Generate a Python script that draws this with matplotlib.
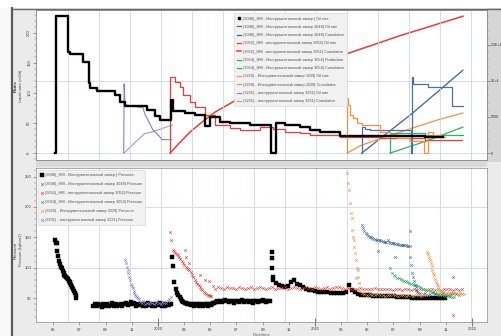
import numpy as np
import pandas as pd
import matplotlib
matplotlib.use("Agg")
import matplotlib.pyplot as plt
import matplotlib.dates as mdates
from matplotlib.lines import Line2D
from matplotlib.patches import Rectangle
from matplotlib.ticker import FixedLocator, FixedFormatter, MultipleLocator

plt.rcParams['font.family'] = ['Liberation Sans', 'DejaVu Sans']
plt.rcParams['font.size'] = 3

# ---- top panel: rates (left axis) and cumulative (right axis) ----
r3048hm_dates = ["2019-05-07", "2019-05-08", "2019-06-06", "2019-06-10", "2019-07-11", "2019-07-25",
                 "2019-07-27", "2019-08-12", "2019-09-23", "2019-10-05", "2019-10-16", "2019-12-06",
                 "2019-12-25", "2020-01-06", "2020-02-01", "2020-02-04", "2020-03-04", "2020-03-27",
                 "2020-04-19", "2020-04-30", "2020-05-24", "2020-06-16", "2020-08-02", "2020-09-20",
                 "2020-10-01", "2020-10-22", "2020-11-26", "2020-12-19", "2021-01-12", "2021-02-27",
                 "2021-09-13", "2021-10-25"]
r3048hm = [0, 228, 168, 165, 152, 117, 108, 103, 97, 85, 78, 72, 62, 55, 88, 70, 67, 63, 45, 60,
           52, 50, 47, 0, 50, 47, 43, 38, 35, 28, 26, 26]

r3048_dates = ["2021-04-18", "2021-04-19", "2021-04-26", "2021-05-08", "2021-08-12", "2021-08-13",
               "2021-08-15", "2021-09-20", "2021-11-15", "2021-12-10"]
r3048 = [0, 43, 40, 38, 0, 127, 115, 110, 78, 78]
c3048_dates = ["2021-04-19", "2021-08-14", "2021-12-10"]
c3048 = [0, 5500, 11500]

r3052_dates = ["2020-01-28", "2020-01-29", "2020-02-10", "2020-02-21", "2020-02-28", "2020-03-15",
               "2020-03-27", "2020-04-19", "2020-05-13", "2020-06-16", "2020-07-10", "2020-08-25",
               "2020-09-24", "2020-10-22", "2020-11-26", "2020-12-19", "2021-02-27", "2021-05-31",
               "2021-09-13", "2021-12-08"]
r3052 = [0, 127, 118, 110, 97, 85, 77, 63, 47, 42, 38, 43, 40, 35, 33, 30, 27, 25, 22, 22]
c3052_dates = ["2020-01-29", "2020-02-21", "2020-03-15", "2020-04-08", "2020-05-13", "2020-06-23",
               "2020-08-25", "2020-11-03", "2021-03-06", "2021-07-17", "2021-12-10"]
c3052 = [0, 1500, 2900, 4100, 5700, 7100, 8900, 10700, 13600, 16300, 19000]

r3054_dates = ["2021-06-23", "2021-06-24", "2021-09-13", "2021-12-10"]
r3054 = [0, 33, 30, 30]
c3054_dates = ["2021-06-24", "2021-09-13", "2021-12-10"]
c3054 = [0, 1600, 3600]

r3229_dates = ["2021-03-15", "2021-03-16", "2021-03-18", "2021-03-23", "2021-03-29", "2021-04-08",
               "2021-04-19", "2021-05-31", "2021-06-24", "2021-07-10", "2021-08-09", "2021-09-10",
               "2021-09-11", "2021-09-19", "2021-09-20", "2021-10-02", "2021-10-18", "2021-10-29"]
r3229 = [0, 92, 80, 63, 58, 50, 47, 35, 32, 25, 20, 20, 0, 0, 35, 30, 27, 27]
c3229_dates = ["2021-03-16", "2021-04-15", "2021-05-31", "2021-07-17", "2021-09-01", "2021-10-18",
               "2021-12-10"]
c3229 = [0, 1000, 2000, 2900, 3800, 4700, 5550]

r3231_dates = ["2019-10-13", "2019-10-14", "2019-10-16", "2019-11-27", "2019-12-01", "2019-12-06",
               "2019-12-13", "2019-12-20", "2020-01-01", "2020-01-10", "2020-02-01"]
r3231 = [0, 115, 80, 75, 65, 58, 48, 38, 30, 22, 22]
c3231_dates = ["2019-10-14", "2019-11-09", "2019-12-01", "2019-12-20", "2020-02-03"]
c3231 = [0, 1500, 2700, 2950, 3900]

# ---- bottom panel: pressure readings, (start date, step in days, values) ----
p3048hm = [
    ("2019-05-06", 2, [146, 141, 140, 128, 120, 112, 106, 102, 99, 95, 92, 89, 87, 85, 83, 81, 79, 77,
                       75, 72, 69, 66, 62, 58, 55, 51]),
    ("2019-08-03", 4, [38, 40, 37, 41, 39, 36, 40, 38, 41, 37, 39, 42, 38, 40, 37, 39, 41, 38, 40, 43,
                       39, 41, 44, 40, 42, 38, 40, 39, 41, 37, 40, 38, 42, 39, 37, 41, 38, 40, 39, 42,
                       38, 40, 37, 41, 39, 40]),
    ("2020-02-02", 3, [118, 103, 77, 66, 59, 55, 52, 49, 46, 44, 43, 42, 41, 40, 40, 39, 41, 38, 40, 39,
                       41, 38, 40, 39, 38, 41, 39, 40, 38, 41, 39, 40, 42, 43, 44, 45, 44]),
    ("2020-05-24", 4, [46, 44, 45, 47, 45, 44, 46, 45, 43, 45, 46, 44, 45, 47, 44, 45, 46, 44, 45, 43,
                       46, 45, 44, 46, 45, 47, 45, 44, 46, 45]),
    ("2020-09-21", 1, [126, 116, 100, 85]),
    ("2020-09-25", 7, [80, 75, 72, 70, 69, 70, 76, 80, 74, 71, 68, 66, 64, 63, 62, 61, 61, 60, 60, 59,
                       59, 58, 58, 58, 60, 72, 64, 60, 57, 56, 55, 55, 55, 54, 54, 54, 54, 53, 53, 53,
                       53, 52, 52, 52, 52, 52, 51, 51, 51, 51, 51, 51, 51, 50, 50, 50, 50, 50]),
]
p3048 = [
    ("2021-04-19", 3, [170, 165, 161, 158, 155, 153, 151, 150, 149, 148, 147, 146, 146, 145, 145, 144,
                       144, 143, 143, 142, 145, 142, 141, 141, 140, 140, 139, 139, 139, 138, 138, 138,
                       137, 137, 137, 136, 136, 136]),
    ("2021-08-10", 2, [118, 105, 92, 85, 78, 72, 68, 64, 61, 59]),
    ("2021-09-01", 6, [58, 57, 58, 56, 57, 58, 57, 56, 57, 58, 57, 56, 57, 58, 57, 56]),
]
p3048_extra_dates = ["2021-05-27", "2021-07-05", "2021-08-09", "2021-11-17"]
p3048_extra = [128, 118, 160, 85]

p3052 = [
    ("2020-01-29", 3, [159, 146, 130, 127, 125, 123, 121, 118, 115, 112, 108, 105, 102, 99, 98, 97, 93,
                       89, 85, 80, 77, 74, 71, 68, 65, 63, 61, 59, 57, 56, 55, 54, 53]),
    ("2020-05-13", 7, [66, 68, 67, 66, 68, 67, 67, 66, 68, 67, 66, 67, 68, 66, 67, 68, 67, 66, 67, 68,
                       66, 67, 67, 68, 66, 67, 68, 67, 66, 67, 68, 67, 66, 68, 67, 66, 67, 68, 66, 67,
                       69, 68, 67, 66, 67, 66, 65, 66, 67, 65, 66, 65, 66, 67, 65, 66, 65, 66, 65, 64,
                       66, 65, 64, 65, 66, 64, 65, 64, 66, 65, 64, 65, 66, 64, 65, 64, 65, 66, 65, 64,
                       65, 64, 65]),
]
p3052_extra_dates = ["2020-03-04", "2020-03-07", "2020-03-13", "2020-04-08", "2020-04-19",
                     "2020-04-28", "2020-05-08", "2021-11-17"]
p3052_extra = [130, 118, 108, 88, 80, 78, 70, 23]

p3054 = [
    ("2021-06-24", 4, [100, 92, 88, 86, 84, 83, 82, 80, 79, 78, 76, 75, 74, 73, 72, 71, 70, 68, 67, 66,
                       65, 64, 63, 62, 61, 60, 59, 58, 57, 56, 56, 55, 54, 54, 53, 53, 52, 52]),
]
p3229 = [
    ("2021-03-16", 2, [256, 240, 228, 206, 190, 182, 162, 150, 146, 125, 113, 100, 97, 85, 75, 62]),
    ("2021-04-19", 6, [58, 57, 56, 57, 55, 56, 57, 55, 56, 54, 56, 55, 57, 55, 54, 56, 55, 54, 56, 55,
                       54, 55, 56, 54, 55, 56]),
    ("2021-09-18", 2, [126, 122, 118, 113, 108, 103, 97, 92, 88, 82, 77, 73, 70, 66, 64, 62, 60]),
    ("2021-10-24", 5, [60, 59, 58, 59, 58, 57, 58, 57, 58, 57, 57]),
]
p3229_extra_dates = ["2021-04-01", "2021-04-05"]
p3229_extra = [134, 84]
p3231 = [
    ("2019-10-16", 2, [113, 108, 102, 96, 92, 85, 80, 74, 70, 67, 62, 58, 56, 54, 52, 50, 48]),
    ("2019-11-20", 4, [44, 42, 45, 41, 43, 40, 44, 42, 41, 43, 45, 42, 41, 44, 42, 43, 45, 48, 52]),
]

labels_top = [
    "(3048)_HM - Инструментальный замер | Oil rate",
    "(3048)_HM - Инструментальный замер 3048| Oil rate",
    "(3048)_HM - Инструментальный замер 3048| Cumulative",
    "(3052)_HM - инструментальный замер 3052| Oil rate",
    "(3052)_HM - инструментальный замер 3052| Cumulative",
    "(3054)_HM - Инструментальный замер 3054| Production",
    "(3054)_HM - Инструментальный замер 3054| Cumulative",
    "(3229) - Инструментальный замер 3229| Oil rate",
    "(3229) - Инструментальный замер 3229| Cumulative",
    "(3231) - инструментальный замер 3231| Oil rate",
    "(3231) - инструментальный замер 3231| Cumulative",
]
labels_bottom = [
    "(3048)_HM - Инструментальный замер | Pressure",
    "(3048)_HM - Инструментальный замер 3048| Pressure",
    "(3052)_HM - инструментальный замер 3052| Pressure",
    "(3054)_HM - Инструментальный замер 3054| Pressure",
    "(3229) - Инструментальный замер 3229| Pressure",
    "(3231) - инструментальный замер 3231| Pressure",
]

BLACK, BLUE, RED, GREEN, ORANGE, PURPLE = "#000000", "#4a6fa5", "#ee3a33", "#2fb15c", "#f3913a", "#8d7cc4"
GRID = "#c9d5f2"


def d(lst):
    return pd.to_datetime(lst)


def segs(parts):
    xs, ys = [], []
    for start, step, vals in parts:
        xs.append(pd.date_range(start, periods=len(vals), freq=f"{step}D"))
        ys.extend(vals)
    return xs[0].append(xs[1:]) if len(xs) > 1 else xs[0], ys


fig = plt.figure(figsize=(5.02, 3.36), dpi=100, facecolor="#ebebeb")

# frame decorations of the application window
fig.patches.append(Rectangle((0, 0), 12 / 502, 1, transform=fig.transFigure, facecolor="#f8f8f8", zorder=-2))
fig.patches.append(Rectangle((0, 1 - 8 / 336), 1, 8 / 336, transform=fig.transFigure, facecolor="#ffffff", zorder=-2))
fig.patches.append(Rectangle((487 / 502, 1 - 162 / 336), 15 / 502, 154 / 336, transform=fig.transFigure,
                             facecolor="#d6d6d6", zorder=-1))
fig.patches.append(Rectangle((36 / 502, 1 - 167 / 336), 451 / 502, 6 / 336, transform=fig.transFigure,
                             facecolor="#d9d9d9", zorder=-1))
fig.add_artist(Line2D([12.5 / 502] * 2, [0, 1 - 8 / 336], color="#5a5a5a", lw=1.6, transform=fig.transFigure))
fig.add_artist(Line2D([12 / 502, 1], [1 - 8.5 / 336] * 2, color="#6a6a6a", lw=1.0, transform=fig.transFigure))

ax1 = fig.add_axes([36 / 502, 1 - 160 / 336, 451 / 502, 150 / 336])
ax1r = ax1.twinx()
ax2 = fig.add_axes([36 / 502, 1 - 322 / 336, 451 / 502, 154 / 336], sharex=ax1)

xmin, xmax = pd.Timestamp("2019-03-23"), pd.Timestamp("2022-02-04")
grid_dates = pd.date_range("2019-06-06", "2022-02-01", freq="72D")
for ax in (ax1, ax2):
    for g in grid_dates:
        ax.axvline(g, color=GRID, lw=0.6, zorder=0)
ax1r.axhline(0, color=GRID, lw=0.6, zorder=0)
ax1r.axhline(10000, color=GRID, lw=0.6, zorder=0)
ax2.axhline(100, color=GRID, lw=0.6, zorder=0)
ax2.axhline(200, color=GRID, lw=0.6, zorder=0)

# rates
h = []
h.append(ax1.plot(d(r3048hm_dates), r3048hm, drawstyle="steps-post", color=BLACK, lw=1.7)[0])
h.append(ax1.plot(d(r3048_dates), r3048, drawstyle="steps-post", color=BLUE, lw=0.9)[0])
h.append(ax1r.plot(d(c3048_dates), c3048, color="#3d5e99", lw=0.9)[0])
h.append(ax1.plot(d(r3052_dates), r3052, drawstyle="steps-post", color=RED, lw=0.9)[0])
h.append(ax1r.plot(d(c3052_dates), c3052, color=RED, lw=1.1)[0])
h.append(ax1.plot(d(r3054_dates), r3054, drawstyle="steps-post", color=GREEN, lw=0.9)[0])
h.append(ax1r.plot(d(c3054_dates), c3054, color=GREEN, lw=0.9)[0])
h.append(ax1.plot(d(r3229_dates), r3229, drawstyle="steps-post", color=ORANGE, lw=0.9)[0])
h.append(ax1r.plot(d(c3229_dates), c3229, color=ORANGE, lw=0.9)[0])
h.append(ax1.plot(d(r3231_dates), r3231, color=PURPLE, lw=0.8)[0])
h.append(ax1r.plot(d(c3231_dates), c3231, color="#a497d2", lw=0.8)[0])
h[0].set_zorder(5)
ax1.set_zorder(ax1r.get_zorder() + 1)
ax1.patch.set_visible(False)
ax1r.patch.set_visible(True)
ax1r.patch.set_facecolor("white")

h_top = [Line2D([], [], color=BLACK, marker="s", ls="none", ms=1.6)] + h[1:]
leg = ax1.legend(h_top, labels_top, loc="upper left", bbox_to_anchor=(0.435, 0.99), fontsize=2.8,
                 handlelength=1.0, handletextpad=0.4, labelspacing=1.1, borderpad=0.8,
                 fancybox=False, framealpha=0.97, facecolor="#f1f1f1", edgecolor="#d8d8d8",
                 labelcolor="#505050")
leg.get_frame().set_linewidth(0.5)
leg.set_zorder(20)

# pressures
ms = 1.8
x, y = segs(p3048hm)
hb = [ax2.plot(x, y, ls="none", marker="s", ms=2.5, color=BLACK, mew=0.3)[0]]
x, y = segs(p3048)
hb.append(ax2.plot(x.append(d(p3048_extra_dates)), y + p3048_extra, ls="none", marker="x", ms=ms,
                   mew=0.45, color=BLUE)[0])
x, y = segs(p3052)
hb.append(ax2.plot(x.append(d(p3052_extra_dates)), y + p3052_extra, ls="none", marker="x", ms=ms,
                   mew=0.45, color=RED)[0])
x, y = segs(p3054)
hb.append(ax2.plot(x, y, ls="none", marker="x", ms=ms, mew=0.45, color=GREEN)[0])
x, y = segs(p3229)
hb.append(ax2.plot(x.append(d(p3229_extra_dates)), y + p3229_extra, ls="none", marker="x", ms=ms,
                   mew=0.45, color=ORANGE)[0])
x, y = segs(p3231)
hb.append(ax2.plot(x, y, ls="none", marker="x", ms=ms, mew=0.45, color=PURPLE)[0])

leg2 = ax2.legend(hb, labels_bottom, loc="upper left", bbox_to_anchor=(0.0, 1.0), fontsize=2.8,
                  handlelength=0.6, handletextpad=0.4, labelspacing=1.3, borderpad=0.8,
                  fancybox=False, framealpha=0.97, facecolor="#f1f1f1", edgecolor="#d8d8d8",
                  markerscale=1.1, labelcolor="#505050")
leg2.get_frame().set_linewidth(0.5)

# axes limits and ticks
ax1.set_xlim(xmin, xmax)
ax1.set_ylim(-12, 238)
ax1r.set_ylim(-972, 19860)
ax2.set_ylim(11, 264)

for ax in (ax1, ax1r, ax2):
    for s in ax.spines.values():
        s.set_color("#8a8a8a")
        s.set_linewidth(0.5)

ax1.yaxis.set_major_locator(MultipleLocator(50))
ax1.yaxis.set_minor_locator(MultipleLocator(10))
ax2.yaxis.set_major_locator(MultipleLocator(50))
ax2.yaxis.set_minor_locator(MultipleLocator(10))
ax1r.yaxis.set_major_locator(FixedLocator([0, 5000, 10000, 15000]))
ax1r.yaxis.set_major_formatter(FixedFormatter(["0", "5000", "1E+4", "1.5E+4"]))
ax1r.yaxis.set_minor_locator(MultipleLocator(1000))
for ax in (ax1, ax2, ax1r):
    ax.tick_params(axis="y", which="major", length=2.2, width=0.4, color="#555555", pad=1.2,
                   labelsize=3, labelcolor="#333333")
    ax.tick_params(axis="y", which="minor", length=1.2, width=0.3, color="#777777")
ax1r.tick_params(axis="y", which="major", labelsize=2.6, pad=0.8)
ax1.tick_params(axis="y", labelrotation=90)
for t in ax1.get_yticklabels():
    t.set_va("center")

ax2.xaxis.set_major_locator(mdates.YearLocator())
ax2.xaxis.set_major_formatter(mdates.DateFormatter("%Y"))
ax2.xaxis.set_minor_locator(mdates.MonthLocator(bymonth=[3, 5, 7, 9, 11]))
ax2.xaxis.set_minor_formatter(mdates.DateFormatter("%m"))
ax2.tick_params(axis="x", which="major", length=6, width=0.5, direction="inout", color="#444444",
                pad=0.5, labelsize=3, labelcolor="#333333")
ax2.tick_params(axis="x", which="minor", length=2, width=0.4, color="#666666", pad=2.5,
                labelsize=3, labelcolor="#333333")
ax1.tick_params(axis="x", which="both", labelbottom=False, length=0)

ax2.set_xlabel("Date/time", fontsize=3.0, color="#555555", labelpad=0.6)

fig.text(16 / 502, 1 - 86 / 336, "Rates", rotation=90, fontsize=3.2, fontweight="bold",
         ha="center", va="center", color="#333333")
fig.text(21 / 502, 1 - 86 / 336, "Liquid rates (m3/d)", rotation=90, fontsize=2.8,
         ha="center", va="center", color="#444444")
fig.text(16 / 502, 1 - 250 / 336, "Pressure", rotation=90, fontsize=3.2,
         ha="center", va="center", color="#333333")
fig.text(21 / 502, 1 - 250 / 336, "Pressure (kgf/cm2)", rotation=90, fontsize=2.8,
         ha="center", va="center", color="#444444")

fig.savefig("out.png", dpi=100, facecolor=fig.get_facecolor())
